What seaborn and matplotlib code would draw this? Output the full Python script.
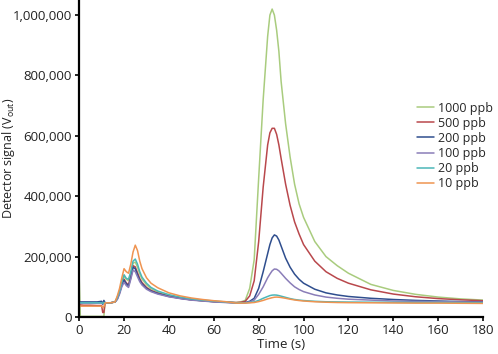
import numpy as np
import pandas as pd
import matplotlib
matplotlib.use("Agg")
import matplotlib.pyplot as plt
import seaborn as sns
from matplotlib.ticker import FuncFormatter

# ---- data ----
time_s = [0, 0.5, 2, 5, 8, 10, 10.5, 11, 11.5, 12, 14, 16, 17, 18, 19, 20, 21, 22, 23, 24,
          25, 26, 27, 28, 30, 32, 35, 40, 45, 50, 55, 60, 65, 70, 72, 74, 76, 78, 80, 82,
          84, 85, 86, 87, 88, 89, 90, 92, 94, 96, 98, 100, 105, 110, 115, 120, 130, 140,
          150, 160, 170, 180]

series_labels = ["1000 ppb", "500 ppb", "200 ppb", "100 ppb", "20 ppb", "10 ppb"]

# values in thousands
s1000 = [130, 2, 2, 2, 2, 2, 2, 2, 47, 47, 47, 50, 65, 85, 115, 135, 125, 120, 145, 178,
         182, 165, 143, 126, 107, 94, 83, 71, 63, 58, 54, 51, 49, 48, 50, 55, 95, 190, 460, 720,
         930, 1000, 1020, 1000, 950, 880, 780, 640, 530, 440, 375, 330, 250, 200, 170, 145, 108, 88,
         75, 66, 60, 56]
s500 = [40, 40, 39, 39, 38, 38, 15, 15, 45, 47, 47, 50, 62, 82, 108, 125, 113, 106, 135, 170,
        166, 146, 127, 114, 98, 88, 79, 69, 62, 57, 54, 51, 49, 48, 49, 52, 70, 120, 250, 430,
        570, 610, 625, 625, 605, 570, 525, 440, 370, 315, 275, 240, 185, 150, 128, 112, 90, 76,
        67, 61, 57, 54]
s200 = [50, 50, 50, 50, 50, 52, 42, 55, 48, 47, 47, 50, 60, 80, 105, 122, 110, 103, 130, 165,
        160, 140, 122, 110, 95, 86, 78, 68, 62, 57, 54, 51, 49, 47, 47, 48, 52, 62, 95, 150,
        210, 240, 262, 272, 268, 255, 235, 195, 165, 142, 125, 112, 92, 80, 73, 68, 62, 58,
        55, 53, 51, 50]
s100 = [46, 46, 46, 46, 46, 46, 44, 48, 47, 47, 47, 50, 58, 76, 100, 115, 104, 98, 125, 155,
        150, 133, 117, 106, 92, 84, 76, 67, 61, 56, 53, 50, 48, 47, 47, 47, 50, 56, 75, 100,
        130, 142, 153, 159, 158, 153, 145, 128, 113, 100, 91, 84, 73, 66, 62, 59, 56, 53,
        52, 51, 50, 49]
s20 = [47, 47, 47, 47, 47, 47, 45, 48, 47, 47, 47, 50, 65, 85, 115, 140, 128, 125, 150, 185,
       192, 175, 150, 132, 112, 98, 86, 74, 66, 60, 56, 53, 50, 47, 47, 47, 48, 50, 55, 62,
       68, 71, 72.5, 73, 72.5, 71, 69, 65, 61, 58, 56, 54.5, 52, 50.5, 50, 49.5, 49, 48.5,
       48, 48, 47.5, 47]
s10 = [36, 36, 36, 36, 36, 36, 32, 34, 46, 47, 47, 50, 70, 95, 130, 160, 150, 145, 175, 215,
       238, 220, 185, 160, 130, 112, 97, 80, 70, 63, 58, 54, 51, 46, 46, 46, 47, 48, 51, 55,
       60, 62, 64, 65.5, 66, 65.5, 64.5, 62, 59, 56.5, 54.5, 53, 50.5, 49, 48, 47.5, 47, 46.5,
       46, 46, 45.5, 45]

series_values = [s1000, s500, s200, s100, s20, s10]
colors = ["#a9cc7e", "#b9484c", "#2f4e8e", "#8a7db8", "#4bb7b8", "#ef9451"]

x_ticks = [0, 20, 40, 60, 80, 100, 120, 140, 160, 180]
y_ticks = [0, 200000, 400000, 600000, 800000, 1000000]

# ---- build long-form table ----
frames = []
for lab, vals in zip(series_labels, series_values):
    frames.append(pd.DataFrame({"Time": time_s,
                                "Signal": np.array(vals, dtype=float) * 1000.0,
                                "Series": lab}))
df = pd.concat(frames, ignore_index=True)

sns.set_style("ticks")
plt.rcParams["font.family"] = ["Open Sans", "DejaVu Sans"]

fig = plt.figure(figsize=(4.98, 3.54), dpi=100)
ax = fig.add_axes([0.159, 0.1045, 0.811, 0.8955])

sns.lineplot(data=df, x="Time", y="Signal", hue="Series", hue_order=series_labels,
             palette=dict(zip(series_labels, colors)), linewidth=1.1, sort=False,
             estimator=None, ax=ax)

ax.set_xlim(0, 180)
ax.set_ylim(0, 1050000)
ax.set_xticks(x_ticks)
ax.set_yticks(y_ticks)
ax.yaxis.set_major_formatter(FuncFormatter(lambda v, p: f"{int(v):,}"))
ax.tick_params(axis="both", labelsize=9.5, length=3, width=1.2, color="black",
               labelcolor="#222222", pad=2)
for s in ["top", "right"]:
    ax.spines[s].set_visible(False)
for s in ["left", "bottom"]:
    ax.spines[s].set_linewidth(1.6)
    ax.spines[s].set_color("black")

ax.set_xlabel("Time (s)", fontsize=9.5, color="#222222", labelpad=1)
ax.set_ylabel(r"Detector signal (V$_{\mathregular{out}}$)", fontsize=9, color="#222222")
ax.yaxis.set_label_coords(-0.155, 0.5)

leg = ax.legend(loc="center left", bbox_to_anchor=(0.838, 0.588), bbox_transform=fig.transFigure,
                frameon=False, fontsize=9, handlelength=1.3, handletextpad=0.35,
                labelspacing=0.17, borderpad=0, borderaxespad=0)
for h in leg.get_lines():
    h.set_linewidth(1.1)

fig.savefig("out.png", dpi=100)
